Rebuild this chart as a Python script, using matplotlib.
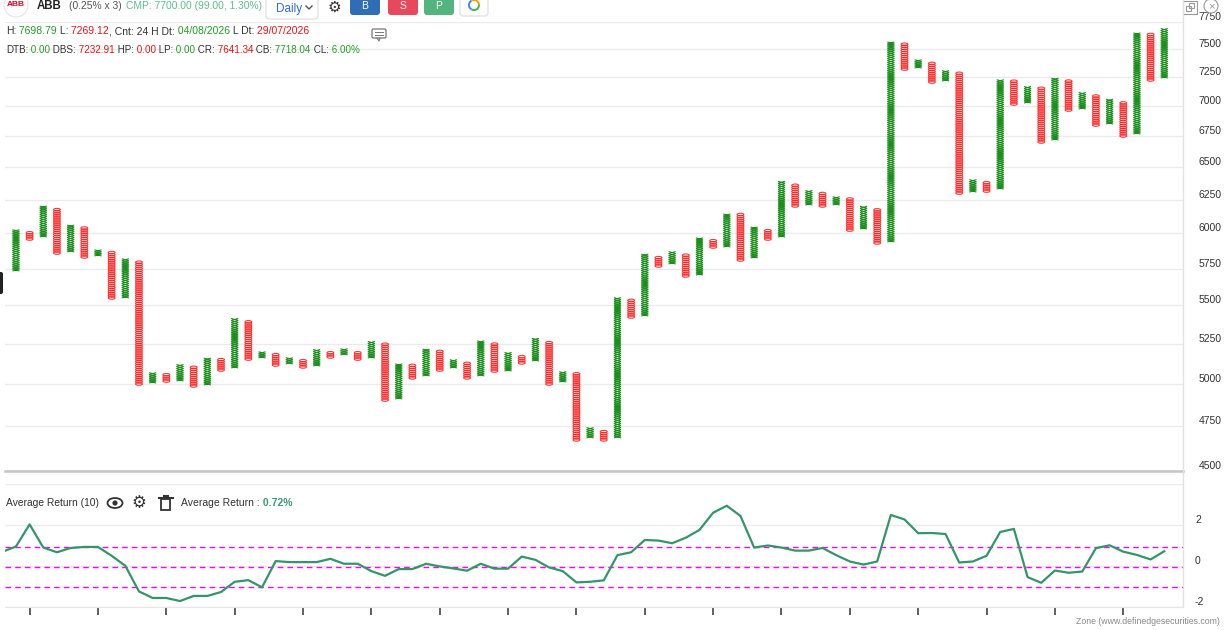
import numpy as np
import matplotlib
matplotlib.use('Agg')
import matplotlib.pyplot as plt
from matplotlib.path import Path
from matplotlib.patches import FancyBboxPatch, Rectangle, Circle, Ellipse, Wedge

plt.rcParams['font.family'] = ['Liberation Sans', 'DejaVu Sans']

# Point & figure columns (0.25% box, 3 box reversal), X = rising, O = falling
col_high = [6032, 6010, 6202, 6187, 6061, 6047, 5881, 5867, 5817, 5803,
            5073, 5067, 5123, 5110, 5160, 5154, 5416, 5396, 5204, 5191,
            5166, 5154, 5217, 5204, 5217, 5204, 5267, 5255, 5123, 5116,
            5217, 5204, 5154, 5135, 5267, 5255, 5191, 5179, 5280, 5267,
            5073, 5067, 4741, 4729, 5549, 5535, 5852, 5838, 5867, 5852,
            5967, 5952, 6150, 6143, 6047, 6032, 6385, 6370, 6324, 6308,
            6270, 6255, 6195, 6187, 7574, 7555, 7402, 7384, 7312, 7295,
            6401, 6385, 7233, 7224, 7164, 7155, 7233, 7224, 7112, 7094,
            7060, 7043, 7647, 7638, 7694]
col_low = [5733, 5952, 5974, 5852, 5867, 5824, 5838, 5542, 5549, 4994,
           5006, 5012, 5018, 4982, 4994, 5079, 5098, 5147, 5160, 5110,
           5123, 5098, 5110, 5160, 5179, 5147, 5160, 4898, 4910, 5031,
           5049, 5079, 5098, 5031, 5049, 5073, 5079, 5123, 5141, 4994,
           5012, 4667, 4684, 4667, 4684, 5416, 5429, 5761, 5782, 5692,
           5705, 5895, 5902, 5803, 5824, 5952, 5974, 6195, 6210, 6195,
           6210, 6017, 6032, 5924, 5938, 7312, 7330, 7198, 7216, 6293,
           6308, 6308, 6331, 7009, 7026, 6694, 6718, 6958, 6975, 6833,
           6850, 6743, 6767, 7216, 7242]
col_type = ['X' if i % 2 == 0 else 'O' for i in range(len(col_high))]
box = 0.0025

# Average Return (10), one value per column (first one is the column off the left edge)
avg_x = list(range(-1, 85))
avg_return = [0.69, 0.95, 2.03, 0.90, 0.67, 0.88, 0.93, 0.93, 0.50, 0.01,
              -1.24, -1.56, -1.56, -1.71, -1.46, -1.46, -1.27, -0.77, -0.69, -1.04,
              0.24, 0.19, 0.19, 0.19, 0.35, 0.11, 0.11, -0.25, -0.48, -0.15,
              -0.15, 0.11, -0.02, -0.12, -0.23, 0.11, -0.13, -0.13, 0.46, 0.30,
              -0.07, -0.25, -0.80, -0.77, -0.70, 0.53, 0.67, 1.27, 1.24, 1.11,
              1.38, 1.76, 2.60, 2.94, 2.44, 0.90, 1.00, 0.90, 0.75, 0.75,
              0.88, 0.53, 0.22, 0.07, 0.22, 2.49, 2.27, 1.60, 1.61, 1.56,
              0.17, 0.22, 0.50, 1.66, 1.81, -0.54, -0.82, -0.22, -0.33, -0.27,
              0.87, 1.01, 0.70, 0.54, 0.32, 0.72]
band_levels = [0.95, -0.05, -1.0]

price_ticks = list(range(4500, 7751, 250))

W, H = 1224, 630
fig = plt.figure(figsize=(W / 100, H / 100), dpi=100)
fig.patch.set_facecolor('white')

green = '#1b8f1b'
red = '#ff1f1f'

# markers: flat X and flat O
x_marker = Path([(-0.5, -0.15), (0.5, 0.15), (-0.5, 0.15), (0.5, -0.15)],
                [Path.MOVETO, Path.LINETO, Path.MOVETO, Path.LINETO])
circ = Path.unit_circle()
o_marker = Path(circ.vertices * [0.5, 0.19], circ.codes)

# ---- main P&F panel
ax = fig.add_axes([5 / W, 1 - 471 / H, 1178 / W, 449 / H])
xs_x, ys_x, xs_o, ys_o = [], [], [], []
for i, (t, lo, hi) in enumerate(zip(col_type, col_low, col_high)):
    lo_c = lo * (1 + box / 2)
    hi_c = hi / (1 + box / 2)
    n = max(int(round(np.log(hi_c / lo_c) / np.log(1 + box))), 0)
    levels = lo_c * (1 + box) ** np.arange(n + 1)
    if t == 'X':
        xs_x += [i] * len(levels)
        ys_x += list(levels)
    else:
        xs_o += [i] * len(levels)
        ys_o += list(levels)

ax.scatter(xs_x, ys_x, marker=x_marker, s=26, facecolors='none',
           edgecolors=green, linewidths=0.8, zorder=3)
ax.scatter(xs_o, ys_o, marker=o_marker, s=24, facecolors='none',
           edgecolors=red, linewidths=0.8, alpha=0.9, zorder=3)

ax.set_yscale('log')
ax.set_ylim(4500, 7750)
ax.set_xlim(-0.8, 85.37)
ax.set_yticks(price_ticks, labels=[str(p) for p in price_ticks])
ax.minorticks_off()
ax.set_xticks([])
ax.yaxis.tick_right()
ax.tick_params(axis='y', length=0, pad=11.2, labelsize=7.5, labelcolor='#333333')
for lab in ax.get_yticklabels():
    lab.set_verticalalignment('bottom')
ax.grid(axis='y', color='#ebebeb', lw=1)
ax.set_axisbelow(True)
for s in ['top', 'left', 'right']:
    ax.spines[s].set_visible(False)
ax.spines['bottom'].set_color('#c4c4c4')
ax.spines['bottom'].set_linewidth(1.8)

# ---- Average Return panel
ax2 = fig.add_axes([5 / W, 1 - 607 / H, 1178 / W, 123 / H])
ax2.plot(avg_x, avg_return, color='#35956a', lw=1.6, zorder=3)
for v in band_levels:
    ax2.axhline(v, color='#ff00ff', lw=1, ls=(0, (4, 3)), zorder=2)
ax2.set_xlim(-0.8, 85.37)
ax2.set_ylim(-2, 4)
ax2.set_yticks([-2, 0, 2, 4], labels=['-2', '0', '2', ''])
ax2.yaxis.tick_right()
ax2.tick_params(axis='y', length=0, pad=8.6, labelsize=7.5, labelcolor='#333333')
for lab in ax2.get_yticklabels():
    lab.set_verticalalignment('bottom')
ax2.set_xticks(list(range(1, 85, 5)))
ax2.tick_params(axis='x', length=6, width=1.2, color='#444444', labelbottom=False)
ax2.grid(axis='y', color='#ebebeb', lw=1)
ax2.set_axisbelow(True)
for s in ['top', 'left', 'right']:
    ax2.spines[s].set_visible(False)
ax2.spines['bottom'].set_color('#e6e6e6')

# ---- overlay in pixel coordinates for the toolbar and labels
ov = fig.add_axes([0, 0, 1, 1], zorder=10)
ov.set_xlim(0, W)
ov.set_ylim(H, 0)
ov.axis('off')
ov.patch.set_alpha(0)

dark = '#333333'
tgreen = '#22a022'
tred = '#ee1111'


def colored_line(x, y, parts, size=7.3):
    first = parts[0]
    t = ov.text(x, y, first[0], color=first[1], fontsize=size, va='center',
                fontweight=first[2] if len(first) > 2 else 'normal')
    for p in parts[1:]:
        t = ov.annotate(p[0], xy=(1, 0), xycoords=t, va='bottom', ha='left',
                        color=p[1], fontsize=size,
                        fontweight=p[2] if len(p) > 2 else 'normal')
    return t


# right axis line
ov.plot([1183, 1183], [0, 607], color='#e2e2e2', lw=1)

# toolbar
ov.add_patch(Circle((16, 5), 12, fc='white', ec='#e4e4e4', lw=0.8))
ov.text(16, 5, 'ABB', color='#e3001b', fontsize=6, fontweight='bold', ha='center', va='center')
ov.text(37, 6, 'ABB', color='#222222', fontsize=8.3, fontweight='bold', va='center')
ov.text(69, 6, '(0.25% x 3)', color='#555555', fontsize=7.4, va='center')
ov.text(126, 6, 'CMP: 7700.00 (99.00, 1.30%)', color='#5dbf8f', fontsize=7.4, va='center')
ov.add_patch(FancyBboxPatch((266, -6), 52, 25, boxstyle='round,pad=0,rounding_size=3',
                            fc='white', ec='#dcdcdc', lw=0.8))
ov.text(276, 9, 'Daily', color='#2f6fd0', fontsize=8.5, va='center')
ov.plot([306, 309, 312], [6, 9, 6], color='#555555', lw=1)
ov.text(334, 7, '\u2699', color='#333333', fontsize=11, family='DejaVu Sans',
        ha='center', va='center')
for bx, lab, colr in [(350, 'B', '#2f6db5'), (388, 'S', '#e8485c'), (424, 'P', '#52b57f')]:
    ov.add_patch(FancyBboxPatch((bx, -4), 30, 19, boxstyle='round,pad=0,rounding_size=3',
                                fc=colr, ec='none'))
    ov.text(bx + 15, 6, lab, color='white', fontsize=7.5, ha='center', va='center')
ov.add_patch(FancyBboxPatch((460, -4), 28, 20, boxstyle='round,pad=0,rounding_size=3',
                            fc='white', ec='#dcdcdc', lw=0.8))
for a1, a2, colr in [(0, 120, '#3cba54'), (120, 240, '#4285f4'), (240, 360, '#f4a400')]:
    ov.add_patch(Wedge((474, 5), 6, a1, a2, width=2, fc=colr, ec='none'))

# info lines
colored_line(6, 31, [('H:', dark), (' 7698.79', tgreen), (' L:', dark), (' 7269.12', tred),
                     (', Cnt: 24 H Dt:', dark), (' 04/08/2026', tgreen), (' L Dt:', dark),
                     (' 29/07/2026', tred)], size=7.5)
colored_line(6, 50, [('DTB:', dark), (' 0.00', tgreen), (' DBS:', dark), (' 7232.91', tred),
                     (' HP:', dark), (' 0.00', tred), (' LP:', dark), (' 0.00', tgreen),
                     (' CR:', dark), (' 7641.34', tred), (' CB:', dark), (' 7718.04', tgreen),
                     (' CL:', dark), (' 6.00%', tgreen)], size=7.15)

# comment icon
ov.add_patch(FancyBboxPatch((372, 29), 14, 9, boxstyle='round,pad=0,rounding_size=1.5',
                            fc='white', ec='#777777', lw=0.9))
ov.plot([375, 383], [32, 32], color='#777777', lw=0.7)
ov.plot([375, 383], [35, 35], color='#777777', lw=0.7)
ov.plot([377, 379, 380], [38, 41, 38], color='#777777', lw=0.8)

# top right icons
ov.add_patch(Rectangle((1183, 1), 14, 13, fc='white', ec='#999999', lw=0.8))
ov.add_patch(Rectangle((1186, 6), 5, 5, fc='none', ec='#999999', lw=0.8))
ov.add_patch(Rectangle((1189, 3), 5, 5, fc='none', ec='#999999', lw=0.8))
ov.add_patch(Circle((1211, 6), 7, fc='white', ec='#999999', lw=0.8))
ov.text(1211, 6, '\u00d7', color='#999999', fontsize=8, ha='center', va='center')

# left tab
ov.add_patch(FancyBboxPatch((-4, 272), 7, 22, boxstyle='round,pad=0,rounding_size=2',
                            fc='#222222', ec='none'))

# average return header
ov.text(6, 503, 'Average Return (10)', color=dark, fontsize=7.4, va='center')
ov.add_patch(Ellipse((115, 503), 15, 10, fc='none', ec='#333333', lw=1.3))
ov.add_patch(Circle((115, 503), 2.6, fc='#333333', ec='none'))
ov.text(139, 503, '\u2699', color='#333333', fontsize=12, family='DejaVu Sans',
        ha='center', va='center')
ov.add_patch(Rectangle((161, 499), 9, 11, fc='none', ec='#333333', lw=1.3))
ov.plot([158.5, 172.5], [497.5, 497.5], color='#333333', lw=1.5)
ov.plot([163.5, 167.5], [495.5, 495.5], color='#333333', lw=1.5)
colored_line(181, 503, [('Average Return :', dark), (' 0.72%', '#3a9a70', 'bold')], size=7.5)

ov.text(1220, 622, 'Zone (www.definedgesecurities.com)', color='#8a8a8a',
        fontsize=6.3, ha='right', va='center')

fig.savefig('out.png', dpi=100, facecolor='white')
